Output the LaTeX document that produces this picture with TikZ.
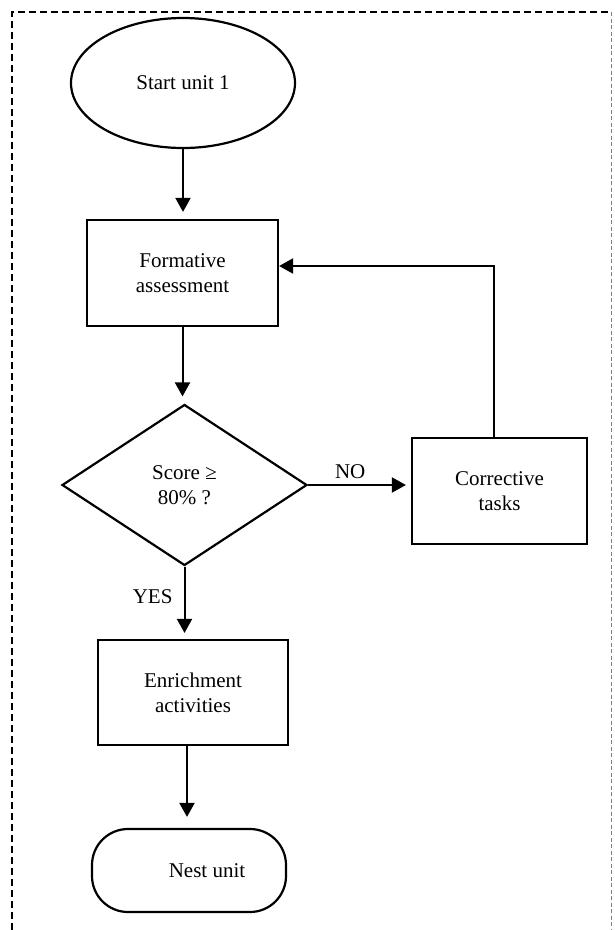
\documentclass[tikz,border=0pt]{standalone}
\usepackage{fontspec}
\setmainfont{Liberation Serif}
\usetikzlibrary{shapes.geometric,arrows.meta}
\begin{document}
\begin{tikzpicture}[x=1pt,y=-1pt,
  every node/.style={font=\fontsize{21}{25}\selectfont},
  flowline/.style={line width=2pt},
  arr/.style={flowline,-{Triangle[length=14pt,width=15pt]}},
  shapebox/.style={draw,line width=2.2pt,align=center,inner sep=0pt},
  lbl/.style={inner sep=0pt}]
\useasboundingbox (0,0) rectangle (614,930);
% frame
\draw[line width=1.4pt, dash pattern=on 7pt off 4pt] (12,930) -- (12,12) -- (611,12);
\draw[gray, line width=0.8pt, dash pattern=on 4pt off 2.5pt] (611,12) -- (611,930);
% nodes
\node[shapebox, ellipse, minimum width=224pt, minimum height=130pt] (start) at (183,83) {Start unit 1};
\node[shapebox, rectangle, minimum width=191pt, minimum height=106pt] (form) at (182.5,273) {Formative\\assessment};
\node[shapebox, diamond, minimum width=245pt, minimum height=161pt] (dec) at (184.5,485) {Score ≥\\80\% ?};
\node[shapebox, rectangle, minimum width=175pt, minimum height=106pt] (corr) at (499.5,491) {Corrective\\tasks};
\node[shapebox, rectangle, minimum width=190pt, minimum height=105pt] (enr) at (193,692.5) {Enrichment\\activities};
\node[shapebox, rectangle, rounded corners=36pt, minimum width=194pt, minimum height=83pt] (nest) at (189,870.5) {};
\node[lbl] (nesttxt) at ([xshift=18pt]nest.center) {Nest unit};
% connectors
\draw[arr, shorten >=7pt] (start.south) -- (start.south |- form.north);
\draw[arr, shorten >=7pt] (form.south) -- (form.south |- dec.north);
\draw[arr, shorten >=5pt] (dec.east) -- node[lbl, pos=0.41, above=5pt] (nolbl) {NO} (dec.east -| corr.west);
\draw[arr] ([xshift=-5.5pt]corr.north) |- ([yshift=7pt]form.east);
\draw[arr, shorten >=6pt] (dec.south) -- node[lbl, pos=0.42, left=11pt] (yeslbl) {YES} (dec.south |- enr.north);
\draw[arr, shorten >=11pt] ([xshift=-6pt]enr.south) -- ([xshift=-6pt]enr.south |- nest.north);
\end{tikzpicture}
\end{document}
